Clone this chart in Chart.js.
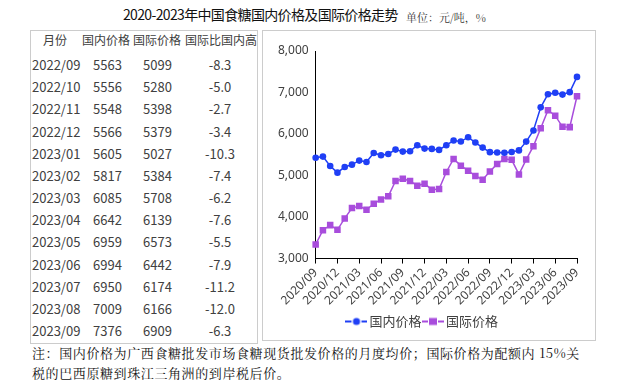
<!DOCTYPE html>
<html>
<head>
<meta charset="utf-8">
<script src="https://cdn.jsdelivr.net/npm/chart.js@4.4.0/dist/chart.umd.min.js"></script>
<style>
	body { margin: 0; width: 626px; height: 391px; position: relative; overflow: hidden; background: #fff;
		font-family: "Noto Sans CJK SC", "Noto Sans", sans-serif; color: #333; }
	.title { position: absolute; left: 123px; top: 4px; font-size: 14px; letter-spacing: -0.65px; color: #111; white-space: nowrap; }
	.unit { position: absolute; left: 406px; top: 9px; font-size: 11px; color: #333; white-space: nowrap;
		font-family: "Noto Serif CJK SC", "Noto Sans CJK SC", serif; }
	.box { position: absolute; border: 1px solid #ccc; box-sizing: border-box; }
	#table { left: 30px; top: 30px; width: 228px; height: 314px; }
	#chartBox { left: 262px; top: 30px; width: 334px; height: 311px; }
	.cell { position: absolute; height: 18px; line-height: 18px; font-size: 13px; white-space: nowrap; color: #404040; }
	.head { font-size: 12px; }
	.note { position: absolute; left: 32px; top: 343px; font-size: 13px; line-height: 20px; letter-spacing: 0.6px;
		color: #111; white-space: nowrap; font-family: "Noto Serif CJK SC", "Noto Sans CJK SC", serif; }
</style>
</head>
<body>
<div class="title">2020-2023年中国食糖国内价格及国际价格走势</div>
<div class="unit">单位：元/吨，%</div>
<div class="box" id="table"></div>
<div class="box" id="chartBox"><canvas id="chart"></canvas></div>
<div class="note">注：国内价格为广西食糖批发市场食糖现货批发价格的月度均价；国际价格为配额内 15%关<br>税的巴西原糖到珠江三角洲的到岸税后价。</div>
<script>
const months = [
	'2020/09', '2020/10', '2020/11', '2020/12', '2021/01', '2021/02', '2021/03', '2021/04',
	'2021/05', '2021/06', '2021/07', '2021/08', '2021/09', '2021/10', '2021/11', '2021/12',
	'2022/01', '2022/02', '2022/03', '2022/04', '2022/05', '2022/06', '2022/07', '2022/08',
	'2022/09', '2022/10', '2022/11', '2022/12', '2023/01', '2023/02', '2023/03', '2023/04',
	'2023/05', '2023/06', '2023/07', '2023/08', '2023/09',
]
const domestic = [
	5430, 5456, 5230, 5069, 5206, 5262, 5359, 5327,
	5544, 5488, 5520, 5625, 5576, 5585, 5730, 5649,
	5641, 5617, 5730, 5842, 5818, 5923, 5794, 5673,
	5563, 5556, 5548, 5566, 5605, 5817, 6085, 6642,
	6959, 6994, 6950, 7009, 7376,
]
const international = [
	3340, 3684, 3805, 3692, 3966, 4216, 4264, 4176,
	4320, 4425, 4498, 4868, 4924, 4868, 4755, 4804,
	4659, 4675, 5085, 5399, 5238, 5117, 4989, 4900,
	5099, 5280, 5398, 5379, 5027, 5384, 5708, 6139,
	6573, 6442, 6174, 6166, 6909,
]
const ratio = ['-8.3', '-5.0', '-2.7', '-3.4', '-10.3', '-7.4', '-6.2', '-7.6', '-5.5', '-7.9', '-11.2', '-12.0', '-6.3']
const tableHeads = ['月份', '国内价格', '国际价格', '国际比国内高']
const seriesNames = ['国内价格', '国际价格']

const BLUE = '#1f3ff5'
const PURPLE = '#a84ddc'

// table on the left (last 13 months)
const table = document.getElementById('table')
function addCell(text, x, w, y, align, cls) {
	let d = document.createElement('div')
	d.className = 'cell' + (cls ? ' ' + cls : '')
	d.style.left = x + 'px'
	d.style.width = w + 'px'
	d.style.top = (y - 9) + 'px'
	d.style.textAlign = align
	d.textContent = text
	table.appendChild(d)
}
const headCenters = [24, 75, 126, 190]
tableHeads.forEach((h, i) => addCell(h, headCenters[i] - 40, 80, 9, 'center', 'head'))
const n = ratio.length
for(let i = 0; i < n; i++) {
	let k = months.length - n + i
	let y = 34 + i * 22.17
	addCell(months[k], 1, 60, y, 'left')
	addCell(domestic[k], 62, 60, y, 'left')
	addCell(international[k], 112, 60, y, 'left')
	addCell(ratio[i], 149, 80, y, 'center')
}

// legend marker: short line with point
function legendMark(color, style) {
	const c = document.createElement('canvas')
	c.width = 22; c.height = 10
	const g = c.getContext('2d')
	g.strokeStyle = color
	g.lineWidth = 2
	g.beginPath(); g.moveTo(0, 5); g.lineTo(6, 5); g.moveTo(16, 5); g.lineTo(22, 5); g.stroke()
	g.fillStyle = color
	if(style === 'circle') {
		g.beginPath(); g.arc(11, 5, 3.6, 0, Math.PI * 2); g.fill()
	} else {
		g.fillRect(7, 1.5, 8, 7)
	}
	return c
}
const marks = [legendMark(BLUE, 'circle'), legendMark(PURPLE, 'rect')]

const ctx = document.getElementById('chart').getContext('2d')
new Chart(ctx, {
	type: 'line',
	data: {
		labels: months,
		datasets: [
			{
				label: seriesNames[0],
				data: domestic,
				borderColor: BLUE,
				backgroundColor: BLUE,
				borderWidth: 1.5,
				pointStyle: 'circle',
				pointRadius: 3.3,
				pointBorderWidth: 0,
				tension: 0,
			},
			{
				label: seriesNames[1],
				data: international,
				borderColor: PURPLE,
				backgroundColor: PURPLE,
				borderWidth: 1.5,
				pointStyle: 'rect',
				pointRadius: 4.6,
				pointBorderWidth: 0,
				tension: 0,
			},
		],
	},
	options: {
		responsive: true,
		maintainAspectRatio: false,
		animation: false,
		layout: { padding: { left: 8, right: 18, top: 20, bottom: 2 } },
		scales: {
			x: {
				offset: false,
				grid: { drawOnChartArea: false, tickLength: 5, tickColor: '#000' },
				border: { color: '#000', width: 1 },
				afterBuildTicks: axis => { axis.ticks = axis.ticks.filter(t => t.value % 3 === 0) },
				ticks: {
					autoSkip: false,
					minRotation: 45,
					maxRotation: 45,
					color: '#404040',
					font: { size: 12, family: '"Noto Sans", sans-serif' },
					padding: 2,
				},
			},
			y: {
				min: 3000,
				max: 8000,
				grid: { drawOnChartArea: false, drawTicks: false },
				border: { color: '#000', width: 1 },
				ticks: {
					stepSize: 1000,
					padding: 7,
					color: '#404040',
					font: { size: 12, family: '"Noto Sans", sans-serif' },
					callback: v => v.toLocaleString('en-US'),
				},
			},
		},
		plugins: {
			tooltip: { enabled: false },
			legend: {
				position: 'bottom',
				labels: {
					usePointStyle: true,
					color: '#404040',
					font: { size: 13, family: '"Noto Sans CJK SC", sans-serif' },
					padding: 5,
					generateLabels: chart => chart.data.datasets.map((ds, i) => ({
						text: ds.label,
						pointStyle: marks[i],
						fillStyle: ds.borderColor,
						strokeStyle: ds.borderColor,
						fontColor: '#404040',
						lineWidth: 0,
						datasetIndex: i,
						hidden: false,
					})),
				},
			},
		},
	},
})
</script>
</body>
</html>
